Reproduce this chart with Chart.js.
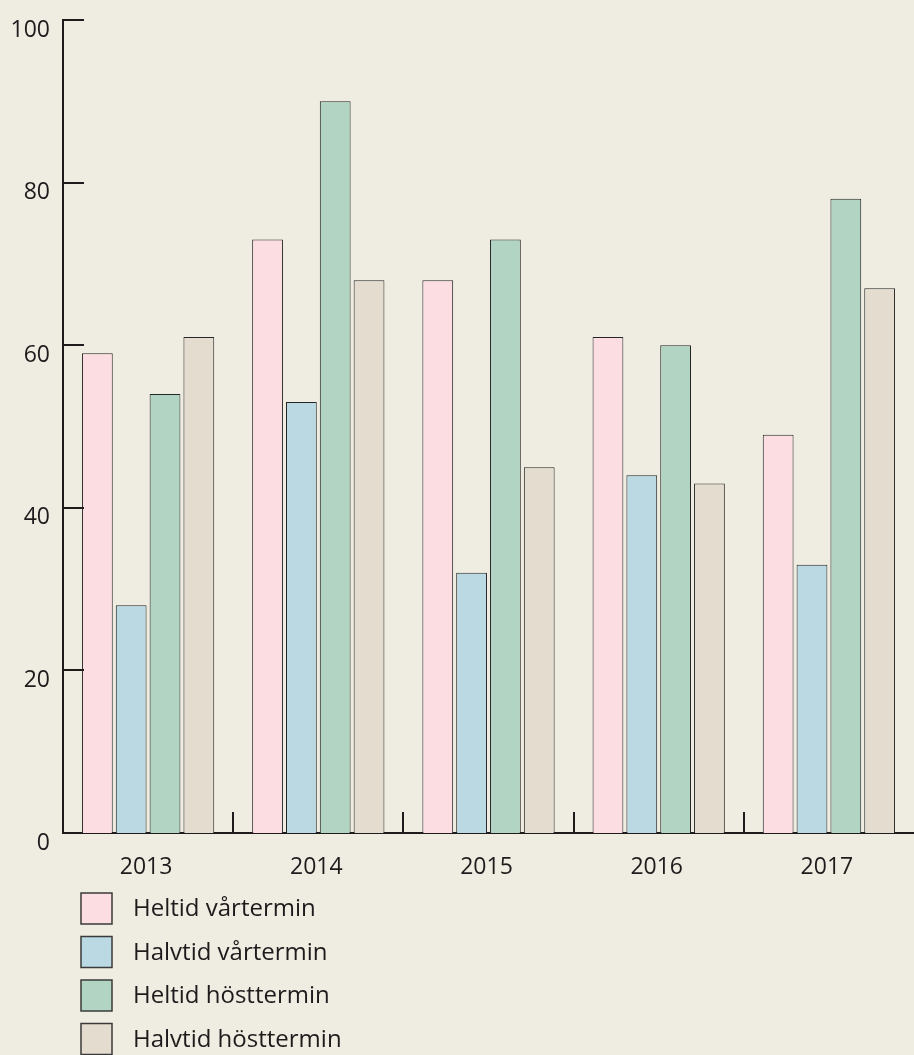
<!DOCTYPE html>
<html>
<head>
<meta charset="utf-8">
<script src="https://cdn.jsdelivr.net/npm/chart.js@4.4.0/dist/chart.umd.min.js"></script>
<style>
  html, body { margin: 0; padding: 0; background: #efece2; }
  #wrap { width: 914px; height: 1055px; position: relative; }
</style>
</head>
<body>
<div id="wrap"><canvas id="c" width="914" height="1055"></canvas></div>
<script>
const years = ['2013', '2014', '2015', '2016', '2017'];
const seriesNames = ['Heltid vårtermin', 'Halvtid vårtermin', 'Heltid hösttermin', 'Halvtid hösttermin'];
const heltidVar = [59, 73, 68, 61, 49];
const halvtidVar = [28, 53, 32, 44, 33];
const heltidHost = [54, 90, 73, 60, 78];
const halvtidHost = [61, 68, 45, 43, 67];
const yTicks = [0, 20, 40, 60, 80, 100];

const colors = ['#fcdde1', '#bbd9e3', '#b2d4c3', '#e4ddcf'];
const seriesValues = [heltidVar, halvtidVar, heltidHost, halvtidHost];
const FONT = '"Open Sans", "Noto Sans", sans-serif';
const INK = '#1f1b1c';

const tickPlugin = {
  id: 'innerTicks',
  afterDatasetsDraw(chart) {
    const ctx = chart.ctx;
    const x = chart.scales.x, y = chart.scales.y;
    ctx.save();
    ctx.strokeStyle = INK;
    ctx.lineWidth = 2;
    ctx.beginPath();
    yTicks.forEach(v => {
      const py = Math.round(y.getPixelForValue(v));
      if (v === 0) return;
      ctx.moveTo(x.left, py);
      ctx.lineTo(x.left + 21, py);
    });
    for (let i = 1; i < years.length; i++) {
      const px = Math.round((x.getPixelForTick(i - 1) + x.getPixelForTick(i)) / 2);
      ctx.moveTo(px, y.bottom);
      ctx.lineTo(px, y.bottom - 21);
    }
    ctx.stroke();
    ctx.restore();
  },
  afterDraw(chart) {
    const ctx = chart.ctx;
    ctx.save();
    ctx.font = '24px ' + FONT;
    ctx.textBaseline = 'middle';
    ctx.textAlign = 'left';
    chart.data.datasets.forEach((ds, i) => {
      const bx = 81, by = 893 + i * 43.5, s = 31;
      ctx.fillStyle = ds.backgroundColor;
      ctx.fillRect(bx, by, s, s);
      ctx.strokeStyle = '#3a3a3a';
      ctx.lineWidth = 1.5;
      ctx.strokeRect(bx, by, s, s);
      ctx.fillStyle = INK;
      ctx.fillText(ds.label, 133, by + s / 2 + 1);
    });
    ctx.restore();
  }
};

new Chart(document.getElementById('c'), {
  type: 'bar',
  data: {
    labels: years,
    datasets: seriesNames.map((n, i) => ({
      label: n,
      data: seriesValues[i],
      backgroundColor: colors[i],
      borderColor: '#262626',
      borderWidth: 1,
      borderSkipped: 'bottom',
      categoryPercentage: 0.795,
      barPercentage: 0.91
    }))
  },
  options: {
    responsive: false,
    animation: false,
    devicePixelRatio: 1,
    layout: { padding: { top: 20, right: 0, left: 0, bottom: 0 } },
    plugins: { legend: { display: false }, tooltip: { enabled: false } },
    scales: {
      x: {
        grid: { display: false, drawTicks: false },
        border: { display: true, color: INK, width: 2 },
        ticks: { color: INK, font: { family: FONT, size: 23 }, padding: 21, maxRotation: 0, labelOffset: -2 },
        afterFit(scale) { scale.height = 222; scale.paddingLeft = 0; scale.paddingRight = 0; }
      },
      y: {
        min: 0, max: 100,
        grid: { display: false, drawTicks: false },
        border: { display: true, color: INK, width: 2 },
        ticks: { stepSize: 20, color: INK, font: { family: FONT, size: 23 }, padding: 13, labelOffset: 10 },
        afterFit(scale) { scale.width = 63; scale.paddingTop = 0; scale.paddingBottom = 0; }
      }
    }
  },
  plugins: [tickPlugin]
});
</script>
</body>
</html>
